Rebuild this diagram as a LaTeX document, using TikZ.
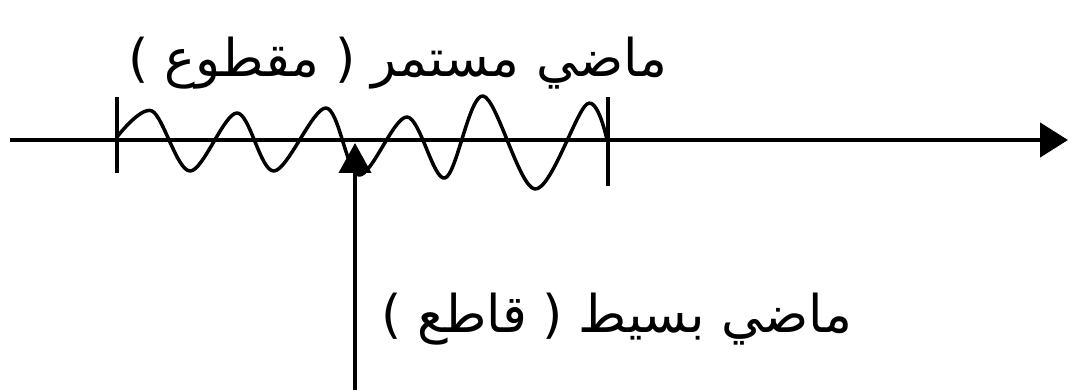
\documentclass[tikz,border=0pt]{standalone}
\usepackage{fontspec}
\newfontfamily\arabicfont[Script=Arabic]{DejaVu Sans}
\newfontfamily\latinfont{DejaVu Sans}
\TeXXeTstate=1
\usetikzlibrary{arrows.meta}
\newcommand\lparen{{\latinfont(}}
\newcommand\rparen{{\latinfont)}}
\tikzset{
  axisline/.style={line width=4.5pt, -{Triangle[length=28pt,width=34pt]}},
  tickline/.style={line width=3.5pt},
  waveline/.style={line width=3.5pt, line join=round},
  pointer/.style={line width=4pt, -{Triangle[length=30pt,width=32pt]}},
  label/.style={font=\fontsize{52}{60}\selectfont, inner sep=0pt},
}
\begin{document}
\begin{tikzpicture}[x=1pt,y=-1pt]
\useasboundingbox (0,0) rectangle (1070,390);
\coordinate (axisL) at (10,140);
\coordinate (axisR) at (1068,140);
\coordinate (t1a) at (117,97);
\coordinate (t1b) at (117,173);
\coordinate (t2a) at (608,97);
\coordinate (t2b) at (608,186);
\coordinate (arrB) at (355,392);
\coordinate (arrT) at (355,143);
\draw[axisline] (axisL) -- (axisR);
\draw[tickline] (t1a) -- (t1b);
\draw[tickline] (t2a) -- (t2b);
\draw[waveline] plot[smooth, tension=0.55] coordinates {
  (117,137) (152,111) (190,171) (237,113) (274,171) (326,108) (359,175)
  (407,117) (445,178) (483,96) (535,189) (587,104) (607,140)};
\draw[pointer] (arrB) -- (arrT);
\node[label] (cont) at (398,63) {\lparen\ {\arabicfont\beginR مقطوع\endR}\ \rparen\ {\arabicfont\beginR ماضي مستمر\endR}};
\node[label] (simple) at (617,319) {\lparen\ {\arabicfont\beginR قاطع\endR}\ \rparen\ {\arabicfont\beginR ماضي بسيط\endR}};
\end{tikzpicture}
\end{document}
